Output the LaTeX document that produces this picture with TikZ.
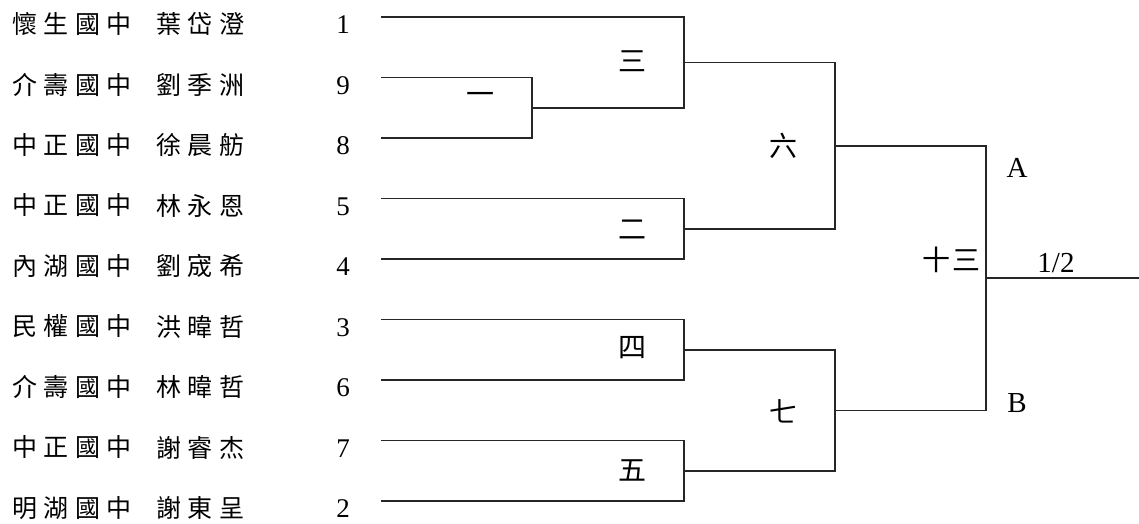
\documentclass[tikz,border=0pt]{standalone}
\usepackage{fontspec}
\setmainfont{Liberation Serif}
\newfontfamily\cjkfont{Noto Sans CJK TC}
\newfontfamily\cjkwide[LetterSpace=26]{Noto Sans CJK TC}
\usetikzlibrary{positioning}

\tikzset{
  school/.style={anchor=west, inner sep=0pt, font=\cjkwide\fontsize{25}{25}\selectfont},
  seed/.style={inner sep=0pt, font=\fontsize{27}{27}\selectfont},
  roundlbl/.style={inner sep=0pt, font=\cjkfont\fontsize{28}{28}\selectfont},
  sidelbl/.style={inner sep=0pt, font=\fontsize{29}{29}\selectfont},
  bracket/.style={line width=1.1pt, black!85}
}

\begin{document}
\begin{tikzpicture}[x=1pt,y=-1pt]
\useasboundingbox (0,0) rectangle (1139,524);

% players, seeds and line ends
\foreach \sch/\pl/\sd [count=\i] in {懷生國中/葉岱澄/1, 介壽國中/劉季洲/9,
    中正國中/徐晨舫/8, 中正國中/林永恩/5, 內湖國中/劉宬希/4, 民權國中/洪暐哲/3,
    介壽國中/林暐哲/6, 中正國中/謝睿杰/7, 明湖國中/謝東呈/2} {
  \pgfmathsetmacro\yy{17+60.5*(\i-1)}
  \node[school] (s\i) at (12,\yy+7) {\sch};
  \node[school] (p\i) at (156,\yy+7) {\pl};
  \node[seed] (n\i) at (343,\yy+8) {\sd};
  \coordinate (e\i) at (381,\yy);
}

% match joins
\coordinate (r1) at (532,108);
\coordinate (r3) at (684,62.5);
\coordinate (r2) at (684,229);
\coordinate (r6) at (835,146);
\coordinate (r4) at (684,350);
\coordinate (r5) at (684,471);
\coordinate (r7) at (835,410.5);
\coordinate (r13) at (986,278);
\coordinate (fin) at (1139,278);

\draw[bracket] (e2) -| (r1) |- (e3);
\draw[bracket] (e1) -| (r3) |- (r1);
\draw[bracket] (e4) -| (r2) |- (e5);
\draw[bracket] (r3) -| (r6) |- (r2);
\draw[bracket] (e6) -| (r4) |- (e7);
\draw[bracket] (e8) -| (r5) |- (e9);
\draw[bracket] (r4) -| (r7) |- (r5);
\draw[bracket] (r6) -| (r13) |- (r7);
\draw[bracket] (r13) -- (fin);

% round numbers
\node[roundlbl] (l1) at (480,98) {一};
\node[roundlbl] (l3) at (632,61) {三};
\node[roundlbl] (l2) at (632,230) {二};
\node[roundlbl] (l6) at (783,146) {六};
\node[roundlbl] (l4) at (632,348) {四};
\node[roundlbl] (l5) at (632,470) {五};
\node[roundlbl] (l7) at (783,411) {七};
\node[roundlbl] (l13) at (951,260) {十\hspace{2pt}三};

\node[sidelbl] (la) at (1017,168) {A};
\node[sidelbl] (lb) at (1017,403) {B};
\node[sidelbl] (lh) at (1056,263) {1/2};
\end{tikzpicture}
\end{document}
